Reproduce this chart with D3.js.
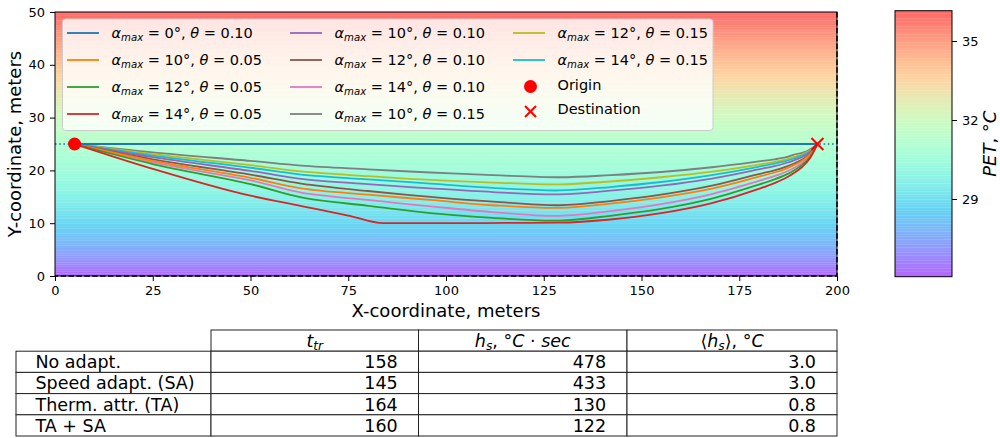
<!DOCTYPE html>
<html>
<head>
<meta charset="utf-8">
<script src="https://cdn.jsdelivr.net/npm/d3@7"></script>
<style>
body { margin: 0; background: #fff; }
svg { display: block; font-family: "DejaVu Sans", sans-serif; }
</style>
</head>
<body>
<svg id="chart" width="1000" height="438"></svg>
<script>
// path samples (meters)
var pathX   = [5, 25, 50, 63, 80, 96, 112, 129, 142, 155, 168, 180, 184, 187, 189, 191, 193, 195];
var yBlue   = [25, 25, 25, 25, 25, 25, 25, 25, 25, 25, 25, 25, 25, 25, 25, 25, 25, 25];
var yOrange = [25, 21.8, 18.6, 16.6, 15.4, 14.4, 13.4, 12.9, 13.7, 14.9, 16.55, 18.8, 19.6, 20.35, 21.0, 21.8, 22.95, 25];
var yGreen  = [25, 21.2, 17.4, 14.9, 13.3, 11.9, 11.0, 10.5, 11.4, 12.7, 14.65, 17.3, 18.3, 19.2, 20.0, 21.0, 22.45, 25];
var yPurple = [25, 22.5, 19.9, 18.4, 17.4, 16.6, 15.9, 15.45, 16.15, 17.1, 18.45, 20.2, 20.8, 21.4, 21.9, 22.5, 23.4, 25];
var yBrown  = [25, 22.1, 19.2, 17.5, 16.1, 15.0, 14.1, 13.4, 14.2, 15.4, 17.1, 19.3, 20.0, 20.7, 21.3, 22.0, 23.1, 25];
var yPink   = [25, 21.5, 18.1, 15.8, 14.4, 13.2, 12.1, 11.4, 12.3, 13.6, 15.5, 18.0, 18.9, 19.75, 20.45, 21.35, 22.7, 25];
var yGray   = [25, 23.4, 21.8, 20.9, 20.2, 19.6, 19.1, 18.7, 19.1, 19.7, 20.6, 21.7, 22.1, 22.5, 23.0, 23.3, 23.9, 25];
var yOlive  = [25, 23.1, 21.0, 19.8, 18.9, 18.2, 17.7, 17.35, 17.9, 18.7, 19.75, 21.1, 21.6, 22.1, 22.55, 23.0, 23.7, 25];
var yCyan   = [25, 22.8, 20.5, 19.2, 18.3, 17.5, 16.7, 16.2, 16.85, 17.8, 19.1, 20.7, 21.3, 21.8, 22.25, 22.8, 23.6, 25];
// the 14 deg / 0.05 path has a kink where it hits y = 10
var redX = [5, 25, 50, 63, 75, 84, 100, 115, 129, 142, 155, 168, 180, 184, 187, 189, 191, 193, 195];
var yRed = [25, 20.3, 15.2, 13.25, 11.45, 10.0, 10.0, 10.05, 10.1, 10.7, 11.9, 13.8, 16.5, 17.6, 18.6, 19.5, 20.6, 22.2, 25];

var alphaMax = [0, 10, 12, 14, 10, 12, 14, 10, 12, 14];
var thetas = ["0.10", "0.05", "0.05", "0.05", "0.10", "0.10", "0.10", "0.15", "0.15", "0.15"];
var origin = [5, 25];
var destination = [195, 25];

// PET background, as a function of Y
var petY   = [0, 5, 10, 15, 20, 25, 30, 35, 40, 45, 50];
var petVal = [26.1, 27.6, 28.7, 29.7, 30.5, 31.2, 32.0, 33.0, 34.0, 35.0, 36.1];
var petMin = 26.05, petMax = 36.15;
var cbTicks = [29, 32, 35];

// table
var rowLabels = ["No adapt.", "Speed adapt. (SA)", "Therm. attr. (TA)", "TA + SA"];
var tTr = [158, 145, 164, 160];
var hS = [478, 433, 130, 122];
var hSMean = ["3.0", "3.0", "0.8", "0.8"];

var svg = d3.select("#chart");
var tab10 = d3.schemeCategory10;

// matplotlib "rainbow"
function rainbow(t) {
	var r = Math.min(1, Math.abs(2 * t - 0.5));
	var g = Math.sin(Math.PI * t);
	var b = Math.cos(Math.PI * t / 2);
	return d3.rgb(r * 255, g * 255, b * 255);
}

var x = d3.scaleLinear().domain([0, 200]).range([55, 837]);
var y = d3.scaleLinear().domain([0, 50]).range([276, 12]);
var petToY = d3.scaleLinear().domain(petVal).range(petY).clamp(true);

var nLev = 100;
var levels = d3.range(nLev + 1).map(function(i) { return petMin + i * (petMax - petMin) / nLev; });
var bands = d3.range(nLev).map(function(i) {
	return { lo: levels[i], hi: levels[i + 1], c: rainbow((i + 0.5) / nLev) };
});

// background field
var bg = svg.append("g");
bg.selectAll("rect")
	.data(bands)
	.enter()
	.append("rect")
	.attr("x", x(0))
	.attr("width", x(200) - x(0))
	.attr("y", function(d) { return y(petToY(d.hi)); })
	.attr("height", function(d) { return Math.max(0, y(petToY(d.lo)) - y(petToY(d.hi))); })
	.attr("fill", function(d) { return d.c; })
	.attr("fill-opacity", 0.6);

// domain boundary (right and bottom show, the rest sits under the spines)
svg.append("path")
	.attr("d", "M" + x(200) + "," + y(50) + "V" + y(0) + "H" + x(0))
	.attr("fill", "none").attr("stroke", "#000")
	.attr("stroke-width", 1.5).attr("stroke-dasharray", "5.5,2.4");

// straight reference line
svg.append("line")
	.attr("x1", x(0)).attr("x2", x(200))
	.attr("y1", y(25)).attr("y2", y(25))
	.attr("stroke", tab10[0]).attr("stroke-width", 1.6)
	.attr("stroke-dasharray", "1.6,2.6");

var line = d3.line()
	.x(function(d) { return x(d[0]); })
	.y(function(d) { return y(d[1]); })
	.curve(d3.curveCatmullRom.alpha(0.5));
var kinkLine = d3.line()
	.x(function(d) { return x(d[0]); })
	.y(function(d) { return y(d[1]); })
	.curve(d3.curveMonotoneX);

var paths = [yBlue, yOrange, yGreen, yRed, yPurple, yBrown, yPink, yGray, yOlive, yCyan];
var drawOrder = [7, 8, 9, 4, 5, 6, 1, 2, 3, 0];
drawOrder.forEach(function(i) {
	var xs = i == 3 ? redX : pathX;
	var pts = xs.map(function(v, k) { return [v, paths[i][k]]; });
	svg.append("path")
		.attr("d", (i == 3 ? kinkLine : line)(pts))
		.attr("fill", "none")
		.attr("stroke", tab10[i])
		.attr("stroke-width", 1.8);
});

// origin / destination
svg.append("circle")
	.attr("cx", x(origin[0])).attr("cy", y(origin[1]))
	.attr("r", 6.5).attr("fill", "red");

function cross(g, cx, cy, s) {
	g.append("path")
		.attr("d", "M" + (cx - s) + "," + (cy - s) + "L" + (cx + s) + "," + (cy + s) +
			"M" + (cx - s) + "," + (cy + s) + "L" + (cx + s) + "," + (cy - s))
		.attr("stroke", "red").attr("stroke-width", 2).attr("fill", "none");
}
cross(svg, x(destination[0]), y(destination[1]), 6);

// axes
var xAxis = svg.append("g")
	.attr("transform", "translate(0," + y(0) + ")")
	.call(d3.axisBottom(x).tickValues(d3.range(0, 201, 25)).tickSize(5).tickPadding(5));
var yAxis = svg.append("g")
	.attr("transform", "translate(" + x(0) + ",0)")
	.call(d3.axisLeft(y).tickValues(d3.range(0, 51, 10)).tickSize(5).tickPadding(5));
[xAxis, yAxis].forEach(function(a) {
	a.select(".domain").remove();
	a.selectAll("text").attr("font-size", 13).attr("font-family", "DejaVu Sans").attr("fill", "#000");
	a.selectAll("line").attr("stroke", "#000");
});
svg.append("rect")
	.attr("x", x(0)).attr("y", y(50))
	.attr("width", x(200) - x(0)).attr("height", y(0) - y(50))
	.attr("fill", "none").attr("stroke", "#000").attr("stroke-width", 1);

svg.append("text")
	.attr("x", (x(0) + x(200)) / 2).attr("y", 317)
	.attr("text-anchor", "middle").attr("font-size", 18)
	.text("X-coordinate, meters");
svg.append("text")
	.attr("transform", "translate(21," + (y(0) + y(50)) / 2 + ") rotate(-90)")
	.attr("text-anchor", "middle").attr("font-size", 18)
	.text("Y-coordinate, meters");

// legend
var legend = svg.append("g");
legend.append("rect")
	.attr("x", 62.5).attr("y", 19).attr("width", 650.5).attr("height", 111.5)
	.attr("rx", 3).attr("fill", "#fff").attr("fill-opacity", 0.8)
	.attr("stroke", "#cccccc").attr("stroke-width", 1);

var colX = [67, 290, 513];
function legendPos(i) {
	return [colX[Math.floor(i / 4)], 33 + (i % 4) * 27];
}

function mathLabel(t, a, th) {
	t.append("tspan").attr("font-style", "italic").text("α");
	t.append("tspan").attr("font-style", "italic").attr("font-size", "70%").attr("dy", 3).text("max");
	t.append("tspan").attr("dy", -3).text(" = " + a + "°, ");
	t.append("tspan").attr("font-style", "italic").text("θ");
	t.append("tspan").text(" = " + th);
}

alphaMax.forEach(function(a, i) {
	var p = legendPos(i);
	legend.append("line")
		.attr("x1", p[0]).attr("x2", p[0] + 32)
		.attr("y1", p[1]).attr("y2", p[1])
		.attr("stroke", tab10[i]).attr("stroke-width", 1.8);
	var t = legend.append("text")
		.attr("x", p[0] + 44.5).attr("y", p[1] + 5)
		.attr("font-size", 14.5);
	mathLabel(t, a, thetas[i]);
});
var pO = legendPos(10), pD = legendPos(11);
legend.append("circle").attr("cx", pO[0] + 17.5).attr("cy", pO[1] - 0.5).attr("r", 6.5).attr("fill", "red");
legend.append("text").attr("x", pO[0] + 44.5).attr("y", pO[1] + 3).attr("font-size", 14.5).text("Origin");
cross(legend, pD[0] + 17.5, pD[1] - 2.5, 5.5);
legend.append("text").attr("x", pD[0] + 44.5).attr("y", pD[1] + 0).attr("font-size", 14.5).text("Destination");

// colorbar
var cbX0 = 895, cbX1 = 952;
var cb = d3.scaleLinear().domain([petMin, petMax]).range([276.7, 10.7]);
svg.append("g").selectAll("rect")
	.data(bands)
	.enter()
	.append("rect")
	.attr("x", cbX0).attr("width", cbX1 - cbX0)
	.attr("y", function(d) { return cb(d.hi); })
	.attr("height", function(d) { return cb(d.lo) - cb(d.hi); })
	.attr("fill", function(d) { return d.c; })
	.attr("fill-opacity", 0.6);
svg.append("rect")
	.attr("x", cbX0).attr("y", cb(petMax))
	.attr("width", cbX1 - cbX0).attr("height", cb(petMin) - cb(petMax))
	.attr("fill", "none").attr("stroke", "#000").attr("stroke-width", 1);
var cbAxis = svg.append("g")
	.attr("transform", "translate(" + cbX1 + ",0)")
	.call(d3.axisRight(cb).tickValues(cbTicks).tickSize(5).tickPadding(5));
cbAxis.select(".domain").remove();
cbAxis.selectAll("text").attr("font-size", 13).attr("font-family", "DejaVu Sans").attr("fill", "#000");
cbAxis.selectAll("line").attr("stroke", "#000");

var cbl = svg.append("text")
	.attr("transform", "translate(996," + (cb(petMin) + cb(petMax)) / 2 + ") rotate(-90)")
	.attr("text-anchor", "middle").attr("font-size", 18);
cbl.append("tspan").attr("font-style", "italic").text("PET");
cbl.append("tspan").text(", °");
cbl.append("tspan").attr("font-style", "italic").text("C");

// table
var colEdges = [16, 211, 418.5, 627, 837];
var rowEdges = [330, 351.2, 372.4, 393.6, 414.8, 436];
var tbl = svg.append("g").attr("font-size", 17.5);
var cellStroke = "#222";

// header cells
for (var c = 1; c < 4; c++) {
	tbl.append("rect")
		.attr("x", colEdges[c]).attr("y", rowEdges[0])
		.attr("width", colEdges[c + 1] - colEdges[c]).attr("height", rowEdges[1] - rowEdges[0])
		.attr("fill", "#fff").attr("stroke", cellStroke);
}
rowLabels.forEach(function(lab, r) {
	for (var c = 0; c < 4; c++) {
		tbl.append("rect")
			.attr("x", colEdges[c]).attr("y", rowEdges[r + 1])
			.attr("width", colEdges[c + 1] - colEdges[c]).attr("height", rowEdges[r + 2] - rowEdges[r + 1])
			.attr("fill", "#fff").attr("stroke", cellStroke);
	}
	var by = (rowEdges[r + 1] + rowEdges[r + 2]) / 2 + 6.3;
	tbl.append("text").attr("x", colEdges[0] + 0.1 * (colEdges[1] - colEdges[0])).attr("y", by).text(lab);
	[tTr[r], hS[r], hSMean[r]].forEach(function(v, k) {
		var ce = colEdges[k + 2];
		tbl.append("text")
			.attr("x", ce - 0.1 * (ce - colEdges[k + 1])).attr("y", by)
			.attr("text-anchor", "end").text(v);
	});
});

function mid(c) { return (colEdges[c] + colEdges[c + 1]) / 2; }
var hy = (rowEdges[0] + rowEdges[1]) / 2 + 6.3;
var h1 = tbl.append("text").attr("x", mid(1)).attr("y", hy).attr("text-anchor", "middle");
h1.append("tspan").attr("font-style", "italic").text("t");
h1.append("tspan").attr("font-style", "italic").attr("font-size", "70%").attr("dy", 3).text("tr");
var h2 = tbl.append("text").attr("x", mid(2)).attr("y", hy).attr("text-anchor", "middle");
h2.append("tspan").attr("font-style", "italic").text("h");
h2.append("tspan").attr("font-style", "italic").attr("font-size", "70%").attr("dy", 3).text("s");
h2.append("tspan").attr("dy", -3).text(", °");
h2.append("tspan").attr("font-style", "italic").text("C");
h2.append("tspan").text(" · ");
h2.append("tspan").attr("font-style", "italic").text("sec");
var h3 = tbl.append("text").attr("x", mid(3)).attr("y", hy).attr("text-anchor", "middle");
h3.append("tspan").text("⟨");
h3.append("tspan").attr("font-style", "italic").text("h");
h3.append("tspan").attr("font-style", "italic").attr("font-size", "70%").attr("dy", 3).text("s");
h3.append("tspan").attr("dy", -3).text("⟩, °");
h3.append("tspan").attr("font-style", "italic").text("C");
</script>
</body>
</html>
